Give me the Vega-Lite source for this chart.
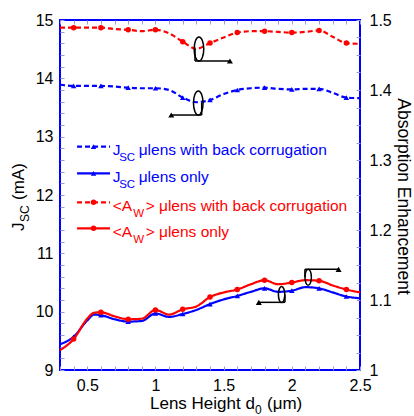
{
  "$schema": "https://vega.github.io/schema/vega-lite/v6.json",
  "width": 300,
  "height": 350,
  "autosize": {"type": "none"},
  "padding": {"left": 60, "top": 20, "right": 54, "bottom": 46},
  "background": "white",
  "config": {"font": "Liberation Sans", "view": {"stroke": "#0000ff", "strokeWidth": 2}},
  "datasets": {
    "curves": [
      {"d": 0.3, "v": 13.89, "s": "Jb"}, {"d": 0.4, "v": 13.87, "s": "Jb"}, {"d": 0.5, "v": 13.87, "s": "Jb"}, {"d": 0.6, "v": 13.87, "s": "Jb"}, {"d": 0.7, "v": 13.86, "s": "Jb"}, {"d": 0.8, "v": 13.84, "s": "Jb"}, {"d": 0.9, "v": 13.83, "s": "Jb"}, {"d": 1.0, "v": 13.83, "s": "Jb"}, {"d": 1.1, "v": 13.8, "s": "Jb"}, {"d": 1.2, "v": 13.67, "s": "Jb"}, {"d": 1.3, "v": 13.59, "s": "Jb"}, {"d": 1.4, "v": 13.63, "s": "Jb"}, {"d": 1.5, "v": 13.73, "s": "Jb"}, {"d": 1.6, "v": 13.8, "s": "Jb"}, {"d": 1.7, "v": 13.83, "s": "Jb"}, {"d": 1.8, "v": 13.84, "s": "Jb"}, {"d": 1.9, "v": 13.82, "s": "Jb"}, {"d": 2.0, "v": 13.81, "s": "Jb"}, {"d": 2.1, "v": 13.82, "s": "Jb"}, {"d": 2.2, "v": 13.82, "s": "Jb"}, {"d": 2.3, "v": 13.75, "s": "Jb"}, {"d": 2.4, "v": 13.67, "s": "Jb"}, {"d": 2.5, "v": 13.66, "s": "Jb"},
      {"d": 0.3, "v": 9.44, "s": "J"}, {"d": 0.4, "v": 9.57, "s": "J"}, {"d": 0.5, "v": 9.85, "s": "J"}, {"d": 0.55, "v": 9.95, "s": "J"}, {"d": 0.6, "v": 9.94, "s": "J"}, {"d": 0.7, "v": 9.87, "s": "J"}, {"d": 0.8, "v": 9.83, "s": "J"}, {"d": 0.9, "v": 9.84, "s": "J"}, {"d": 1.0, "v": 9.97, "s": "J"}, {"d": 1.1, "v": 9.91, "s": "J"}, {"d": 1.2, "v": 9.96, "s": "J"}, {"d": 1.3, "v": 10.03, "s": "J"}, {"d": 1.4, "v": 10.13, "s": "J"}, {"d": 1.5, "v": 10.21, "s": "J"}, {"d": 1.6, "v": 10.27, "s": "J"}, {"d": 1.7, "v": 10.34, "s": "J"}, {"d": 1.8, "v": 10.4, "s": "J"}, {"d": 1.9, "v": 10.34, "s": "J"}, {"d": 2.0, "v": 10.36, "s": "J"}, {"d": 2.1, "v": 10.42, "s": "J"}, {"d": 2.2, "v": 10.4, "s": "J"}, {"d": 2.3, "v": 10.33, "s": "J"}, {"d": 2.4, "v": 10.26, "s": "J"}, {"d": 2.5, "v": 10.23, "s": "J"},
      {"d": 0.3, "v": 1.489, "s": "Ab"}, {"d": 0.4, "v": 1.489, "s": "Ab"}, {"d": 0.5, "v": 1.489, "s": "Ab"}, {"d": 0.6, "v": 1.489, "s": "Ab"}, {"d": 0.7, "v": 1.487, "s": "Ab"}, {"d": 0.8, "v": 1.486, "s": "Ab"}, {"d": 0.9, "v": 1.484, "s": "Ab"}, {"d": 1.0, "v": 1.486, "s": "Ab"}, {"d": 1.1, "v": 1.481, "s": "Ab"}, {"d": 1.2, "v": 1.469, "s": "Ab"}, {"d": 1.3, "v": 1.459, "s": "Ab"}, {"d": 1.4, "v": 1.467, "s": "Ab"}, {"d": 1.5, "v": 1.475, "s": "Ab"}, {"d": 1.6, "v": 1.482, "s": "Ab"}, {"d": 1.7, "v": 1.484, "s": "Ab"}, {"d": 1.8, "v": 1.484, "s": "Ab"}, {"d": 1.9, "v": 1.483, "s": "Ab"}, {"d": 2.0, "v": 1.482, "s": "Ab"}, {"d": 2.1, "v": 1.483, "s": "Ab"}, {"d": 2.2, "v": 1.485, "s": "Ab"}, {"d": 2.3, "v": 1.476, "s": "Ab"}, {"d": 2.4, "v": 1.467, "s": "Ab"}, {"d": 2.5, "v": 1.466, "s": "Ab"},
      {"d": 0.3, "v": 1.0283, "s": "A"}, {"d": 0.4, "v": 1.0442, "s": "A"}, {"d": 0.5, "v": 1.0733, "s": "A"}, {"d": 0.55, "v": 1.0817, "s": "A"}, {"d": 0.6, "v": 1.0825, "s": "A"}, {"d": 0.7, "v": 1.0767, "s": "A"}, {"d": 0.8, "v": 1.0725, "s": "A"}, {"d": 0.9, "v": 1.0733, "s": "A"}, {"d": 1.0, "v": 1.0858, "s": "A"}, {"d": 1.1, "v": 1.0792, "s": "A"}, {"d": 1.2, "v": 1.0867, "s": "A"}, {"d": 1.3, "v": 1.0908, "s": "A"}, {"d": 1.4, "v": 1.1042, "s": "A"}, {"d": 1.5, "v": 1.1108, "s": "A"}, {"d": 1.6, "v": 1.115, "s": "A"}, {"d": 1.7, "v": 1.1225, "s": "A"}, {"d": 1.8, "v": 1.1283, "s": "A"}, {"d": 1.9, "v": 1.1225, "s": "A"}, {"d": 2.0, "v": 1.125, "s": "A"}, {"d": 2.1, "v": 1.1283, "s": "A"}, {"d": 2.2, "v": 1.1275, "s": "A"}, {"d": 2.3, "v": 1.1208, "s": "A"}, {"d": 2.4, "v": 1.115, "s": "A"}, {"d": 2.5, "v": 1.1108, "s": "A"}
    ],
    "legend": [
      {"s": "Jb", "y": 12.828, "main": "J", "sub": "SC", "rest": "μlens with back corrugation"},
      {"s": "J", "y": 12.372, "main": "J", "sub": "SC", "rest": "μlens only"},
      {"s": "Ab", "y": 11.875, "main": "<A", "sub": "W", "rest": "> μlens with back corrugation"},
      {"s": "A", "y": 11.429, "main": "<A", "sub": "W", "rest": "> μlens only"}
    ],
    "ellipses": [
      {"x": 1.319, "y": 14.503, "k": "big"},
      {"x": 1.314, "y": 13.577, "k": "big"},
      {"x": 1.925, "y": 10.294, "k": "small"},
      {"x": 2.12, "y": 10.59, "k": "small"}
    ],
    "segments": [
      {"x": 1.29, "x2": 1.29, "y": 14.503, "y2": 14.297},
      {"x": 1.29, "x2": 1.546, "y": 14.297, "y2": 14.297},
      {"x": 1.339, "x2": 1.339, "y": 13.577, "y2": 13.371},
      {"x": 1.339, "x2": 1.116, "y": 13.371, "y2": 13.371},
      {"x": 1.95, "x2": 1.95, "y": 10.294, "y2": 10.16},
      {"x": 1.95, "x2": 1.758, "y": 10.16, "y2": 10.16},
      {"x": 2.096, "x2": 2.096, "y": 10.59, "y2": 10.726},
      {"x": 2.096, "x2": 2.343, "y": 10.726, "y2": 10.726}
    ],
    "heads": [
      {"x": 1.546, "y": 14.297, "dir": "right"},
      {"x": 1.116, "y": 13.371, "dir": "left"},
      {"x": 1.758, "y": 10.16, "dir": "left"},
      {"x": 2.343, "y": 10.726, "dir": "right"}
    ]
  },
  "layer": [
    {
      "data": {"name": "curves"},
      "transform": [{"filter": "datum.s === 'Jb' || datum.s === 'J'"}],
      "mark": {"type": "line", "interpolate": "monotone", "strokeWidth": 2.2},
      "encoding": {
        "x": {"field": "d", "type": "quantitative", "scale": {"domain": [0.3, 2.5], "nice": false, "zero": false},
          "axis": {"orient": "bottom", "title": null, "domain": false, "grid": false,
            "values": [0.3, 0.4, 0.5, 0.6, 0.7, 0.8, 0.9, 1.0, 1.1, 1.2, 1.3, 1.4, 1.5, 1.6, 1.7, 1.8, 1.9, 2.0, 2.1, 2.2, 2.3, 2.4, 2.5],
            "format": "~g", "labelExpr": "abs(datum.value * 2 - round(datum.value * 2)) < 0.001 ? datum.label : ''",
            "labelFlush": false, "labelOverlap": false, "labelFontSize": 16, "labelColor": "#000000",
            "tickSize": -4, "tickColor": "#9a9ae6", "tickWidth": 1, "labelPadding": 11}},
        "y": {"field": "v", "type": "quantitative", "scale": {"domain": [9, 15], "nice": false, "zero": false},
          "axis": {"orient": "left", "title": null, "domain": false, "grid": false,
            "values": [9, 9.2, 9.4, 9.6, 9.8, 10, 10.2, 10.4, 10.6, 10.8, 11, 11.2, 11.4, 11.6, 11.8, 12, 12.2, 12.4, 12.6, 12.8, 13, 13.2, 13.4, 13.6, 13.8, 14, 14.2, 14.4, 14.6, 14.8, 15],
            "format": "~g", "labelExpr": "abs(datum.value - round(datum.value)) < 0.001 ? datum.label : ''",
            "labelFlush": false, "labelOverlap": false, "labelFontSize": 16, "labelColor": "#000000",
            "tickSize": -4, "tickColor": "#9a9ae6", "tickWidth": 1, "labelPadding": 11}},
        "color": {"field": "s", "type": "nominal", "scale": {"domain": ["Jb", "J", "Ab", "A"], "range": ["#0000ff", "#0000ff", "#ff0000", "#ff0000"]}, "legend": null},
        "strokeDash": {"field": "s", "type": "nominal", "scale": {"domain": ["Jb", "J", "Ab", "A"], "range": [[5, 3], [1, 0], [5, 3], [1, 0]]}, "legend": null}
      }
    },
    {
      "data": {"name": "curves"},
      "transform": [{"filter": "datum.s === 'Ab' || datum.s === 'A'"}],
      "mark": {"type": "line", "interpolate": "monotone", "strokeWidth": 2.2},
      "encoding": {
        "x": {"field": "d", "type": "quantitative",
          "axis": {"orient": "top", "title": null, "domain": false, "grid": false, "labels": false,
            "values": [0.3, 0.4, 0.5, 0.6, 0.7, 0.8, 0.9, 1.0, 1.1, 1.2, 1.3, 1.4, 1.5, 1.6, 1.7, 1.8, 1.9, 2.0, 2.1, 2.2, 2.3, 2.4, 2.5],
            "tickSize": -4, "tickColor": "#9a9ae6", "tickWidth": 1}},
        "y": {"field": "v", "type": "quantitative", "scale": {"domain": [1, 1.5], "nice": false, "zero": false},
          "axis": {"orient": "right", "title": null, "domain": false, "grid": false,
            "values": [1, 1.025, 1.05, 1.075, 1.1, 1.125, 1.15, 1.175, 1.2, 1.225, 1.25, 1.275, 1.3, 1.325, 1.35, 1.375, 1.4, 1.425, 1.45, 1.475, 1.5],
            "format": "~g", "labelExpr": "abs(datum.value * 10 - round(datum.value * 10)) < 0.001 ? datum.label : ''",
            "labelFlush": false, "labelOverlap": false, "labelFontSize": 16, "labelColor": "#000000",
            "tickSize": -4, "tickColor": "#9a9ae6", "tickWidth": 1, "labelPadding": 13}},
        "color": {"field": "s", "type": "nominal", "legend": null},
        "strokeDash": {"field": "s", "type": "nominal", "legend": null}
      }
    },
    {
      "data": {"name": "curves"},
      "transform": [{"filter": "(datum.s === 'Jb' || datum.s === 'J') && datum.d > 0.35 && datum.d < 2.45 && abs(datum.d * 5 - round(datum.d * 5)) < 0.001"}],
      "mark": {"type": "point", "filled": true, "size": 30, "opacity": 1},
      "encoding": {
        "x": {"field": "d", "type": "quantitative", "axis": null},
        "y": {"field": "v", "type": "quantitative", "scale": {"domain": [9, 15], "nice": false, "zero": false}, "axis": null},
        "color": {"field": "s", "type": "nominal", "legend": null},
        "shape": {"field": "s", "type": "nominal", "scale": {"domain": ["Jb", "J", "Ab", "A"], "range": ["triangle-up", "triangle-up", "circle", "circle"]}, "legend": null}
      }
    },
    {
      "data": {"name": "curves"},
      "transform": [{"filter": "(datum.s === 'Ab' || datum.s === 'A') && datum.d > 0.35 && datum.d < 2.45 && abs(datum.d * 5 - round(datum.d * 5)) < 0.001"}],
      "mark": {"type": "point", "filled": true, "size": 30, "opacity": 1},
      "encoding": {
        "x": {"field": "d", "type": "quantitative", "axis": null},
        "y": {"field": "v", "type": "quantitative", "scale": {"domain": [1, 1.5], "nice": false, "zero": false}, "axis": null},
        "color": {"field": "s", "type": "nominal", "legend": null},
        "shape": {"field": "s", "type": "nominal", "legend": null}
      }
    },
    {
      "data": {"name": "legend"},
      "mark": {"type": "rule", "strokeWidth": 2.2},
      "encoding": {
        "x": {"datum": 0.425, "type": "quantitative", "axis": null},
        "x2": {"datum": 0.667},
        "y": {"field": "y", "type": "quantitative", "scale": {"domain": [9, 15], "nice": false, "zero": false}, "axis": null},
        "color": {"field": "s", "type": "nominal", "legend": null},
        "strokeDash": {"field": "s", "type": "nominal", "legend": null}
      }
    },
    {
      "data": {"name": "legend"},
      "mark": {"type": "point", "filled": true, "size": 30, "opacity": 1},
      "encoding": {
        "x": {"datum": 0.546, "type": "quantitative", "axis": null},
        "y": {"field": "y", "type": "quantitative", "scale": {"domain": [9, 15], "nice": false, "zero": false}, "axis": null},
        "color": {"field": "s", "type": "nominal", "legend": null},
        "shape": {"field": "s", "type": "nominal", "legend": null}
      }
    },
    {
      "data": {"name": "legend"},
      "mark": {"type": "text", "align": "left", "baseline": "alphabetic", "fontSize": 15.5, "dy": 8.3},
      "encoding": {
        "x": {"datum": 0.686, "type": "quantitative", "axis": null},
        "y": {"field": "y", "type": "quantitative", "scale": {"domain": [9, 15], "nice": false, "zero": false}, "axis": null},
        "text": {"field": "main"},
        "color": {"field": "s", "type": "nominal", "legend": null}
      }
    },
    {
      "data": {"name": "legend"},
      "transform": [{"filter": "datum.main === 'J'"}],
      "mark": {"type": "text", "align": "left", "baseline": "alphabetic", "fontSize": 11.5, "dx": 6.5, "dy": 14.5},
      "encoding": {
        "x": {"datum": 0.686, "type": "quantitative", "axis": null},
        "y": {"field": "y", "type": "quantitative", "scale": {"domain": [9, 15], "nice": false, "zero": false}, "axis": null},
        "text": {"field": "sub"},
        "color": {"field": "s", "type": "nominal", "legend": null}
      }
    },
    {
      "data": {"name": "legend"},
      "transform": [{"filter": "datum.main === 'J'"}],
      "mark": {"type": "text", "align": "left", "baseline": "alphabetic", "fontSize": 15.5, "dx": 26, "dy": 8.3},
      "encoding": {
        "x": {"datum": 0.686, "type": "quantitative", "axis": null},
        "y": {"field": "y", "type": "quantitative", "scale": {"domain": [9, 15], "nice": false, "zero": false}, "axis": null},
        "text": {"field": "rest"},
        "color": {"field": "s", "type": "nominal", "legend": null}
      }
    },
    {
      "data": {"name": "legend"},
      "transform": [{"filter": "datum.main !== 'J'"}],
      "mark": {"type": "text", "align": "left", "baseline": "alphabetic", "fontSize": 11.5, "dx": 20.5, "dy": 14.5},
      "encoding": {
        "x": {"datum": 0.686, "type": "quantitative", "axis": null},
        "y": {"field": "y", "type": "quantitative", "scale": {"domain": [9, 15], "nice": false, "zero": false}, "axis": null},
        "text": {"field": "sub"},
        "color": {"field": "s", "type": "nominal", "legend": null}
      }
    },
    {
      "data": {"name": "legend"},
      "transform": [{"filter": "datum.main !== 'J'"}],
      "mark": {"type": "text", "align": "left", "baseline": "alphabetic", "fontSize": 15.5, "dx": 33, "dy": 8.3},
      "encoding": {
        "x": {"datum": 0.686, "type": "quantitative", "axis": null},
        "y": {"field": "y", "type": "quantitative", "scale": {"domain": [9, 15], "nice": false, "zero": false}, "axis": null},
        "text": {"field": "rest"},
        "color": {"field": "s", "type": "nominal", "legend": null}
      }
    },
    {
      "data": {"name": "ellipses"},
      "mark": {"type": "point", "shape": "M-0.4,0A0.4,1,0,1,0,0.4,0A0.4,1,0,1,0,-0.4,0Z", "filled": false, "color": "#000000", "strokeWidth": 1.5, "opacity": 1},
      "encoding": {
        "x": {"field": "x", "type": "quantitative", "axis": null},
        "y": {"field": "y", "type": "quantitative", "scale": {"domain": [9, 15], "nice": false, "zero": false}, "axis": null},
        "size": {"field": "k", "type": "nominal", "scale": {"domain": ["big", "small"], "range": [576, 256]}, "legend": null}
      }
    },
    {
      "data": {"name": "segments"},
      "mark": {"type": "rule", "color": "#000000", "strokeWidth": 1.5},
      "encoding": {
        "x": {"field": "x", "type": "quantitative", "axis": null},
        "x2": {"field": "x2"},
        "y": {"field": "y", "type": "quantitative", "scale": {"domain": [9, 15], "nice": false, "zero": false}, "axis": null},
        "y2": {"field": "y2"}
      }
    },
    {
      "data": {"name": "heads"},
      "mark": {"type": "point", "filled": true, "color": "#000000", "size": 36, "opacity": 1},
      "encoding": {
        "x": {"field": "x", "type": "quantitative", "axis": null},
        "y": {"field": "y", "type": "quantitative", "scale": {"domain": [9, 15], "nice": false, "zero": false}, "axis": null},
        "shape": {"field": "dir", "type": "nominal", "scale": {"domain": ["left", "right"], "range": ["triangle-left", "triangle-right"]}, "legend": null}
      }
    },
    {
      "data": {"values": [{}]},
      "mark": {"type": "text", "text": "Lens Height d", "align": "left", "baseline": "alphabetic", "fontSize": 17, "color": "#000000"},
      "encoding": {"x": {"datum": 0.96, "type": "quantitative", "axis": null}, "y": {"datum": 8.331, "type": "quantitative", "scale": {"domain": [9, 15], "nice": false, "zero": false}, "axis": null}}
    },
    {
      "data": {"values": [{}]},
      "mark": {"type": "text", "text": "0", "align": "left", "baseline": "alphabetic", "fontSize": 12, "dx": 105, "dy": 5, "color": "#000000"},
      "encoding": {"x": {"datum": 0.96, "type": "quantitative", "axis": null}, "y": {"datum": 8.331, "type": "quantitative", "scale": {"domain": [9, 15], "nice": false, "zero": false}, "axis": null}}
    },
    {
      "data": {"values": [{}]},
      "mark": {"type": "text", "text": "(μm)", "align": "left", "baseline": "alphabetic", "fontSize": 17, "dx": 117, "color": "#000000"},
      "encoding": {"x": {"datum": 0.96, "type": "quantitative", "axis": null}, "y": {"datum": 8.331, "type": "quantitative", "scale": {"domain": [9, 15], "nice": false, "zero": false}, "axis": null}}
    },
    {
      "data": {"values": [{}]},
      "mark": {"type": "text", "text": "J", "angle": 270, "align": "left", "baseline": "alphabetic", "fontSize": 17, "color": "#000000"},
      "encoding": {"x": {"datum": 0.036, "type": "quantitative", "axis": null}, "y": {"datum": 11.383, "type": "quantitative", "scale": {"domain": [9, 15], "nice": false, "zero": false}, "axis": null}}
    },
    {
      "data": {"values": [{}]},
      "mark": {"type": "text", "text": "SC", "angle": 270, "align": "left", "baseline": "alphabetic", "fontSize": 12, "dx": 9, "dy": 5, "color": "#000000"},
      "encoding": {"x": {"datum": 0.036, "type": "quantitative", "axis": null}, "y": {"datum": 11.383, "type": "quantitative", "scale": {"domain": [9, 15], "nice": false, "zero": false}, "axis": null}}
    },
    {
      "data": {"values": [{}]},
      "mark": {"type": "text", "text": "(mA)", "angle": 270, "align": "left", "baseline": "alphabetic", "fontSize": 17, "dx": 31, "color": "#000000"},
      "encoding": {"x": {"datum": 0.036, "type": "quantitative", "axis": null}, "y": {"datum": 11.383, "type": "quantitative", "scale": {"domain": [9, 15], "nice": false, "zero": false}, "axis": null}}
    },
    {
      "data": {"values": [{}]},
      "mark": {"type": "text", "text": "Absorption Enhancement", "angle": 90, "align": "center", "baseline": "alphabetic", "fontSize": 17.5, "color": "#000000"},
      "encoding": {"x": {"datum": 2.778, "type": "quantitative", "axis": null}, "y": {"datum": 11.974, "type": "quantitative", "scale": {"domain": [9, 15], "nice": false, "zero": false}, "axis": null}}
    }
  ],
  "resolve": {"scale": {"y": "independent"}, "axis": {"x": "independent"}}
}
